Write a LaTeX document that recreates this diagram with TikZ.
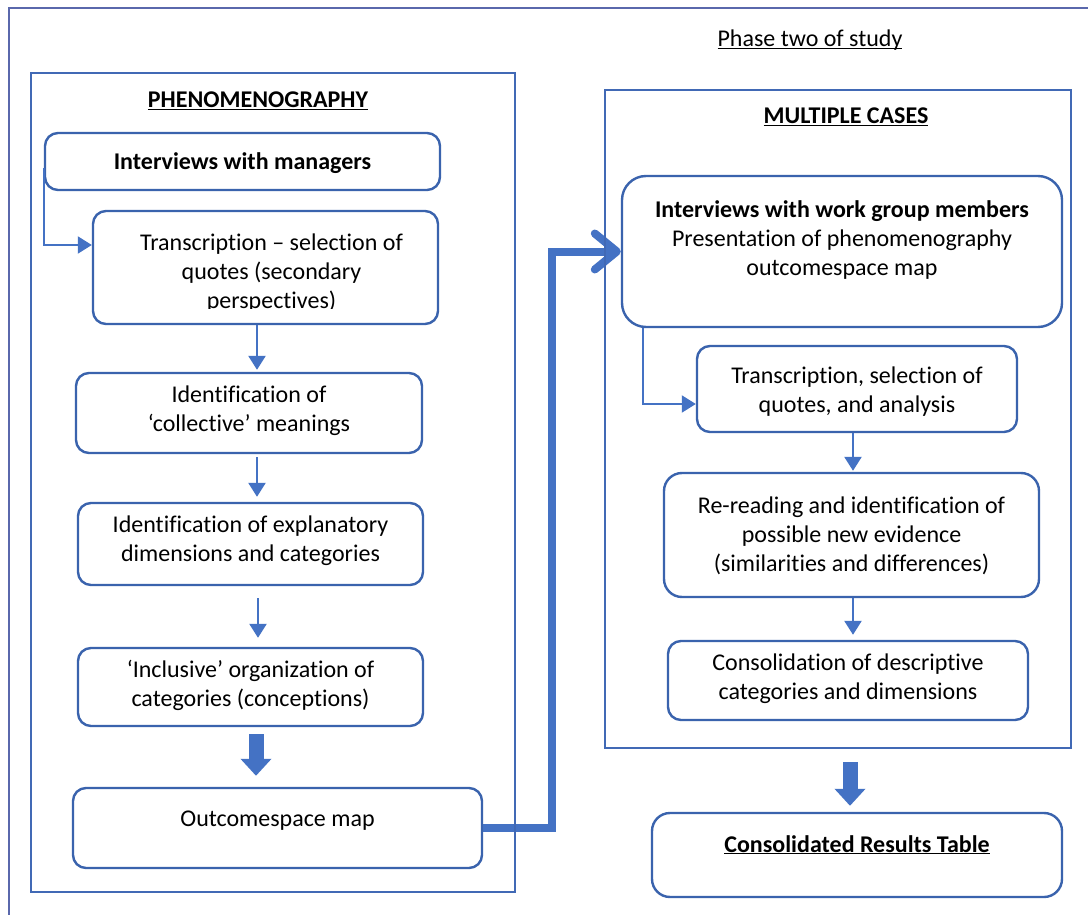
\documentclass[tikz,border=0pt]{standalone}
\usepackage{fontspec}
\setmainfont{Carlito}[Ligatures={NoCommon}]
\usetikzlibrary{arrows.meta,calc}
\definecolor{boxc}{HTML}{3A63AD}
\definecolor{arrc}{HTML}{4472C4}
\definecolor{framec}{HTML}{5A68AC}
\definecolor{panelc}{HTML}{4169B5}
\newcommand\myul[1]{\underline{\smash{#1}}}
\begin{document}
\begin{tikzpicture}[x=1pt,y=-1pt,
  box/.style={draw=boxc, line width=2.4pt, rounded corners=13pt, inner sep=0pt},
  txt/.style={font=\fontsize{24}{29}\selectfont, align=center, inner sep=0pt, text=black},
  ttl/.style={font=\fontsize{24}{29}\selectfont, inner sep=0pt, anchor=base},
  panel/.style={draw=panelc, line width=2pt, inner sep=0pt},
  thinarr/.style={draw=arrc, line width=2.5pt, -{Triangle[length=14pt,width=17pt]}},
  elbow/.style={draw=arrc, line width=2pt, -{Triangle[length=14pt,width=17pt]}},
  block/.style={draw=arrc, line width=15pt, -{Triangle[length=17pt,width=30pt]}},
  bigline/.style={draw=arrc, line width=8pt, -{Straight Barb[length=22pt,width=36pt,round]}},
]
\clip (0,0) rectangle (1088,915);
\fill[white] (0,0) rectangle (1088,915);
% outer frame
\draw[framec, line width=1.5pt] (9,8) rectangle (1110,940);

% titles
\node[ttl] (phase) at (810,47) {\myul{Phase two of study}};
\node[ttl] (tphen) at (258,108) {\bfseries\myul{PHENOMENOGRAPHY}};
\node[ttl] (tmult) at (846,124) {\bfseries\myul{MULTIPLE CASES}};

% left column boxes
\node[box, minimum width=395pt, minimum height=57pt] (b1) at (242.5,161.5) {};
\node[txt] (t1) at ($(b1.center)+(0,2)$) {\bfseries Interviews with managers};

\node[box, minimum width=345pt, minimum height=113pt] (b2) at (265.5,267.5) {};
\begin{scope}
\clip (93,211) rectangle (438,308);
\node[txt] (t2) at ($(b2.center)+(6,6)$) {Transcription – selection of\\quotes (secondary\\perspectives)};
\end{scope}

\node[box, minimum width=346pt, minimum height=80pt] (b3) at (249,413) {};
\node[txt] (t3) at ($(b3.center)+(0,-2.5)$) {Identification of\\‘collective’ meanings};

\node[box, minimum width=345pt, minimum height=82pt] (b4) at (250.5,544) {};
\node[txt] (t4) at ($(b4.center)+(0,-3.5)$) {Identification of explanatory\\dimensions and categories};

\node[box, minimum width=345pt, minimum height=78pt] (b5) at (250.5,687) {};
\node[txt] (t5) at ($(b5.center)+(0,-1.5)$) {‘Inclusive’ organization of\\categories (conceptions)};

\node[box, minimum width=409pt, minimum height=80pt] (b6) at (277.5,828) {};
\node[txt] (t6) at ($(b6.center)+(0,-7)$) {Outcomespace map};

% right column boxes
\node[box, rounded corners=24pt, minimum width=440pt, minimum height=151pt] (b7) at (842,251.5) {};
\node[txt] (t7) at ($(b7.center)+(0,-11.5)$) {\bfseries Interviews with work group members\\Presentation of phenomenography\\outcomespace map};

\node[box, minimum width=320pt, minimum height=86pt] (b8) at (857,389) {};
\node[txt] (t8) at ($(b8.center)+(0,3)$) {Transcription, selection of\\quotes, and analysis};

\node[box, rounded corners=18pt, minimum width=375pt, minimum height=124pt] (b9) at (851.5,535) {};
\node[txt] (t9) at ($(b9.center)+(0,1)$) {Re-reading and identification of\\possible new evidence\\(similarities and differences)};

\node[box, minimum width=360pt, minimum height=79pt] (b10) at (848,680.5) {};
\node[txt] (t10) at ($(b10.center)+(0,-2)$) {Consolidation of descriptive\\categories and dimensions};

\node[box, rounded corners=18pt, minimum width=410pt, minimum height=84pt] (b11) at (857,855) {};
\node[txt] (t11) at ($(b11.center)+(0,-2)$) {\bfseries\myul{Consolidated Results Table}};

% helper coordinates
\coordinate (xl1) at (257,0);
\coordinate (xl3) at (258,0);
\coordinate (xl4) at (256,0);
\coordinate (xr) at (853,0);
\coordinate (xr2) at (850,0);
\coordinate (turn) at (552,500);

% left connectors
\draw[elbow] ($(b1.west)+(0,6.5)$) |- ($(b2.west)+(0,-22.5)$);
\draw[thinarr, shorten >=2pt] (b2.south -| xl1) -- (b3.north -| xl1);
\draw[thinarr, shorten <=3pt, shorten >=5pt] (b3.south -| xl1) -- (b4.north -| xl1);
\draw[thinarr, shorten <=12pt, shorten >=9pt] (b4.south -| xl3) -- (b5.north -| xl3);
\draw[block, shorten <=7pt, shorten >=11pt] (b5.south -| xl4) -- (b6.north -| xl4);

% big connector
\draw[bigline] (b6.east) -| (turn) |- (b7.west);

% right connectors
\draw[elbow] ($(b7.south west)+(22.5,0)$) |- ($(b8.west)+(0,15)$);
\draw[thinarr, shorten >=1pt] (b8.south -| xr) -- (b9.north -| xr);
\draw[thinarr, shorten >=5pt] (b9.south -| xr) -- (b10.north -| xr);

% panels
\node[panel, minimum width=484.5pt, minimum height=819pt] (lp) at (272.75,482.5) {};
\node[panel, minimum width=466.5pt, minimum height=658pt] (rp) at (837.75,419) {};

\draw[block, shorten <=13pt, shorten >=6pt] (rp.south -| xr2) -- (b11.north -| xr2);
\end{tikzpicture}
\end{document}
